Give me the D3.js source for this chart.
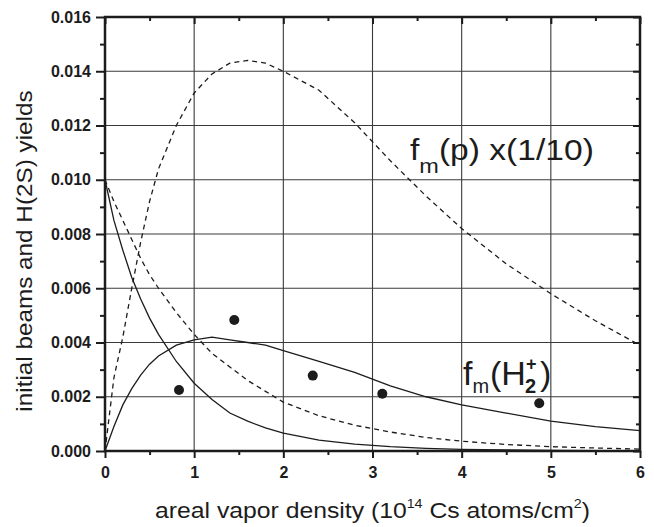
<!DOCTYPE html>
<html>
<head>
<meta charset="utf-8">
<script src="https://cdn.jsdelivr.net/npm/d3@7/dist/d3.min.js"></script>
<style>
  body { margin: 0; background: #fff; }
  svg text { font-family: "Liberation Sans", Arial, Helvetica, sans-serif; fill: #1c1c1c; }
</style>
</head>
<body>
<div id="chart"></div>
<script>
// areal vapor density grid (10^14 Cs atoms/cm^2) shared by every curve
const density = [0, 0.1, 0.2, 0.3, 0.4, 0.5, 0.6, 0.8, 1.0, 1.2, 1.4, 1.6, 1.8, 2.0,
                 2.4, 2.8, 3.2, 3.6, 4.0, 4.5, 5.0, 5.5, 6.0];

// f_m(p) x (1/10), dashed
const fmProton = [0, 0.0027, 0.0042, 0.0060, 0.0077, 0.0092, 0.0104, 0.0120, 0.0132, 0.0139,
                  0.0143, 0.0144, 0.0143, 0.0140, 0.0133, 0.0121, 0.0107, 0.0094, 0.0082,
                  0.0069, 0.0058, 0.0048, 0.0039];
// f_m(H2+), solid
const fmH2 = [0, 0.0009, 0.0017, 0.0023, 0.0028, 0.0032, 0.0035, 0.0039, 0.0041, 0.0042,
              0.0041, 0.0040, 0.0039, 0.0037, 0.0033, 0.0029, 0.0024, 0.0020, 0.0017,
              0.0014, 0.0011, 0.0009, 0.00075];
// initial H2+ beam, solid
const beamSolid = [0.0100, 0.0085, 0.0074, 0.0064, 0.0056, 0.0049, 0.0043, 0.0033, 0.0025,
                   0.0019, 0.0014, 0.0011, 0.00085, 0.00066, 0.0004, 0.00025, 0.00016,
                   0.0001, 0.00006, 0.00004, 0.00002, 0.00001, 0.00001];
// initial beam, dashed
const beamDashed = [0.0100, 0.0092, 0.0085, 0.0078, 0.0071, 0.0065, 0.0060, 0.0051, 0.0043,
                    0.0036, 0.0031, 0.0026, 0.0022, 0.0018, 0.0013, 0.00095, 0.0007, 0.0005,
                    0.00036, 0.00024, 0.00016, 0.00011, 0.00007];

// measured H(2S) yields
const measuredDensity = [0.83, 1.45, 2.33, 3.11, 4.87];
const measuredYield = [0.00225, 0.00483, 0.00278, 0.00211, 0.00176];

const xTicks = [0, 1, 2, 3, 4, 5, 6];
const xMinor = [0.5, 1.5, 2.5, 3.5, 4.5, 5.5];
const yTicks = [0, 0.002, 0.004, 0.006, 0.008, 0.010, 0.012, 0.014, 0.016];
const yMinor = [0.001, 0.003, 0.005, 0.007, 0.009, 0.011, 0.013, 0.015];

const W = 654, H = 527;
const margin = { top: 17, right: 14, bottom: 76, left: 105 };
const width = W - margin.left - margin.right;
const height = H - margin.top - margin.bottom;
const ink = '#1c1c1c';

const svg = d3.select('#chart').append('svg')
    .attr('width', W)
    .attr('height', H);

const chart = svg.append('g')
    .attr('transform', `translate(${margin.left},${margin.top})`);

const xScale = d3.scaleLinear().domain([0, 6]).range([0, width]);
const yScale = d3.scaleLinear().domain([0, 0.016]).range([height, 0]);

// grid
chart.append('g').selectAll('line')
    .data(xTicks.slice(1, -1))
    .join('line')
    .attr('x1', d => xScale(d)).attr('x2', d => xScale(d))
    .attr('y1', 0).attr('y2', height)
    .attr('stroke', '#3a3a3a').attr('stroke-width', 1.1);

chart.append('g').selectAll('line')
    .data(yTicks.slice(1, -1))
    .join('line')
    .attr('x1', 0).attr('x2', width)
    .attr('y1', d => yScale(d)).attr('y2', d => yScale(d))
    .attr('stroke', '#3a3a3a').attr('stroke-width', 1.1);

// curves
const line = d3.line()
    .x((d, i) => xScale(density[i]))
    .y(d => yScale(d));

const curves = [
    { values: fmProton, dash: '5,4' },
    { values: beamDashed, dash: '5,4' },
    { values: fmH2, dash: null },
    { values: beamSolid, dash: null }
];

chart.append('g').selectAll('path')
    .data(curves)
    .join('path')
    .attr('d', d => line(d.values))
    .attr('fill', 'none')
    .attr('stroke', ink)
    .attr('stroke-width', 1.3)
    .attr('stroke-dasharray', d => d.dash);

// measured points
chart.append('g').selectAll('circle')
    .data(measuredDensity)
    .join('circle')
    .attr('cx', d => xScale(d))
    .attr('cy', (d, i) => yScale(measuredYield[i]))
    .attr('r', 5)
    .attr('fill', ink);

// axes: labelled majors + minor ticks on each side
const styleAxis = g => {
    g.select('.domain').remove();
    g.selectAll('.tick line').attr('stroke', ink).attr('stroke-width', 2);
    g.selectAll('.tick text')
        .attr('fill', ink)
        .style('font-size', '16px')
        .style('font-weight', 'bold');
};

chart.append('g')
    .attr('transform', `translate(0,${height})`)
    .call(d3.axisBottom(xScale).tickValues(xTicks).tickFormat(d3.format('d')).tickSize(7).tickPadding(9))
    .call(styleAxis);
chart.append('g')
    .attr('transform', `translate(0,${height})`)
    .call(d3.axisBottom(xScale).tickValues(xMinor).tickFormat('').tickSize(4))
    .call(styleAxis);

chart.append('g')
    .call(d3.axisLeft(yScale).tickValues(yTicks).tickFormat(d3.format('.3f')).tickSize(9).tickPadding(5))
    .call(styleAxis);
chart.append('g')
    .call(d3.axisLeft(yScale).tickValues(yMinor).tickFormat('').tickSize(5))
    .call(styleAxis);

// top and right ticks point inwards
chart.append('g')
    .call(d3.axisBottom(xScale).tickValues(xTicks).tickFormat('').tickSize(7))
    .call(styleAxis);
chart.append('g')
    .call(d3.axisBottom(xScale).tickValues(xMinor).tickFormat('').tickSize(4))
    .call(styleAxis);
chart.append('g')
    .attr('transform', `translate(${width},0)`)
    .call(d3.axisLeft(yScale).tickValues(yTicks).tickFormat('').tickSize(7))
    .call(styleAxis);
chart.append('g')
    .attr('transform', `translate(${width},0)`)
    .call(d3.axisLeft(yScale).tickValues(yMinor).tickFormat('').tickSize(4))
    .call(styleAxis);

// frame
chart.append('rect')
    .attr('width', width)
    .attr('height', height)
    .attr('fill', 'none')
    .attr('stroke', ink)
    .attr('stroke-width', 2.5);

// x axis title
const xTitle = svg.append('g')
    .attr('transform', `translate(${margin.left + width / 2},518) scale(1.1,1)`)
    .append('text')
    .attr('text-anchor', 'middle')
    .style('font-size', '22.5px');
xTitle.append('tspan').text('areal vapor density (10');
xTitle.append('tspan').attr('dy', -10).style('font-size', '13px').text('14');
xTitle.append('tspan').attr('dy', 10).text(' Cs atoms/cm');
xTitle.append('tspan').attr('dy', -10).style('font-size', '13px').text('2');
xTitle.append('tspan').attr('dy', 10).text(')');

// y axis title
svg.append('g')
    .attr('transform', 'translate(32,251) rotate(-90) scale(1.08,1)')
    .append('text')
    .attr('text-anchor', 'middle')
    .style('font-size', '22.5px')
    .text('initial beams and H(2S) yields');

// curve label: f_m(p) x(1/10)
const pLabel = svg.append('g')
    .attr('transform', 'translate(410,160) scale(1.12,1)')
    .append('text')
    .style('font-size', '30px');
pLabel.append('tspan').text('f');
pLabel.append('tspan').attr('dy', 13).style('font-size', '21px').text('m');
pLabel.append('tspan').attr('dy', -13).text('(p) x(1/10)');

// curve label: f_m(H2+)
const hLabel = svg.append('g')
    .attr('transform', 'translate(463,385)');
hLabel.append('text').style('font-size', '34px').text('f');
hLabel.append('text').attr('x', 9.5).attr('y', 8).style('font-size', '20px').text('m');
hLabel.append('text').attr('x', 27).style('font-size', '34px').text('(H');
hLabel.append('text').attr('x', 62).attr('y', 8).style('font-size', '20px').style('font-weight', 'bold').text('2');
hLabel.append('text').attr('x', 63).attr('y', -15).style('font-size', '18px').style('font-weight', 'bold').text('+');
hLabel.append('text').attr('x', 77).style('font-size', '34px').text(')');
</script>
</body>
</html>
